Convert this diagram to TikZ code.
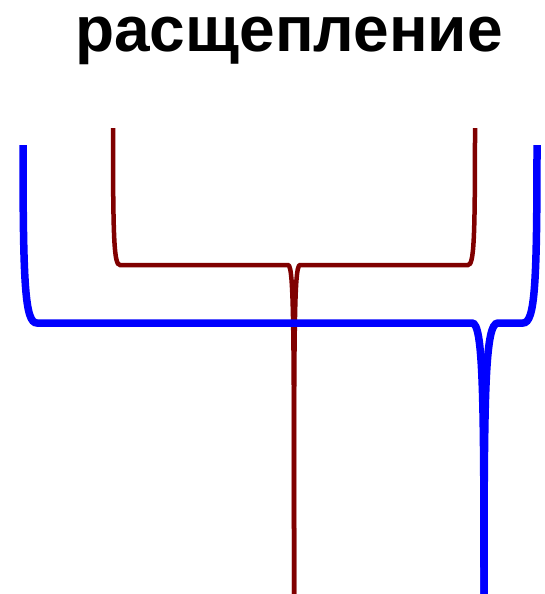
\documentclass[tikz,border=0pt]{standalone}
\usepackage{fontspec}
\setmainfont{Liberation Sans}
\usepackage{tikz}

\begin{document}
\begin{tikzpicture}[x=1pt, y=-1pt]
  \tikzset{
    outer/.style = {draw=blue, line width=7.5pt},
    inner/.style = {draw={rgb,255:red,128;green,0;blue,0}, line width=4.5pt}
  }
  \useasboundingbox (0,0) rectangle (545,594);
  \node (T) [anchor=base] at (289,52) {\fontsize{64}{72}\selectfont\bfseries расщепление};
  % inner strand
  \draw [inner] (113,128) .. controls (113,240) and (114,265) .. (120,265) -- (288,265)
    .. controls (294,265) and (294,330) .. (294,594);
  \draw [inner] (475,128) .. controls (475,240) and (474,265) .. (468,265) -- (300,265)
    .. controls (294,265) and (294,330) .. (294,594);
  % outer strand
  \draw [outer] (23,145) .. controls (23,285) and (25,323) .. (37,323) -- (472,323)
    .. controls (483,323) and (484,390) .. (484,594);
  \draw [outer] (537,145) .. controls (537,285) and (535,323) .. (523,323) -- (498,323)
    .. controls (485,323) and (484,390) .. (484,594);
\end{tikzpicture}
\end{document}
